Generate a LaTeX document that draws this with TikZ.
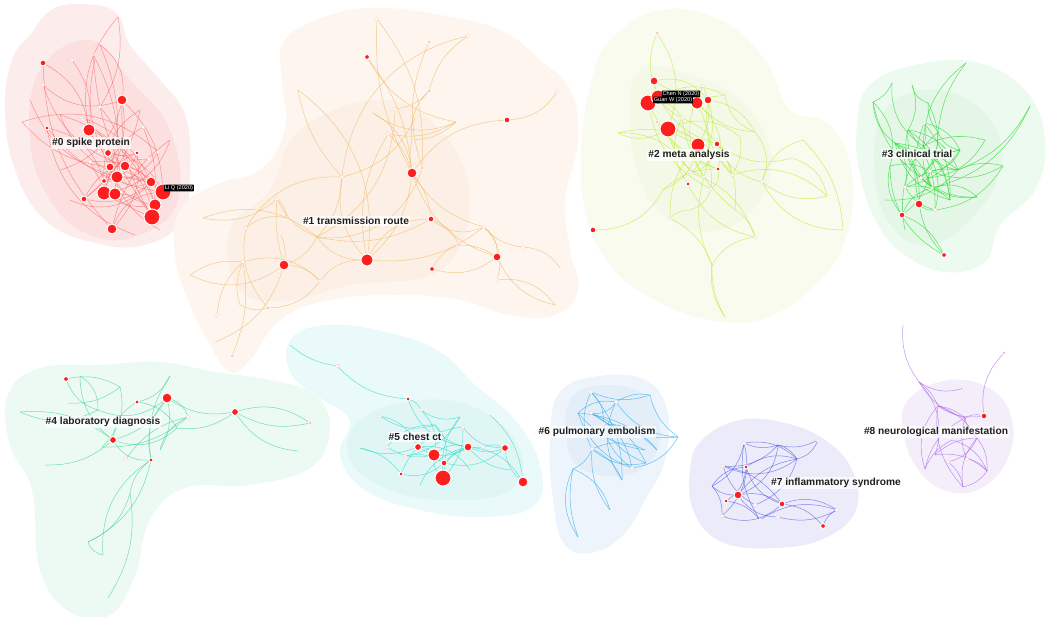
\documentclass[tikz,border=0pt]{standalone}
\usepackage{fontspec}
\setmainfont{Liberation Sans}
\pgfdeclarelayer{blobs}
\pgfdeclarelayer{links}
\pgfsetlayers{blobs,links,main}
\definecolor{nodered}{RGB}{255,30,30}
\definecolor{lk0c}{RGB}{250,90,90}
\definecolor{lk1c}{RGB}{242,185,100}
\definecolor{lk2c}{RGB}{190,235,60}
\definecolor{lk3c}{RGB}{50,220,60}
\definecolor{lk4c}{RGB}{70,215,150}
\definecolor{lk5c}{RGB}{50,220,205}
\definecolor{lk6c}{RGB}{40,170,235}
\definecolor{lk7c}{RGB}{70,80,225}
\definecolor{lk8c}{RGB}{170,100,235}
\definecolor{bl0}{RGB}{253,236,236}
\definecolor{bl0i}{RGB}{252,224,224}
\definecolor{bl1}{RGB}{253,245,238}
\definecolor{bl1i}{RGB}{252,240,230}
\definecolor{bl2}{RGB}{248,251,238}
\definecolor{bl2i}{RGB}{243,249,230}
\definecolor{bl3}{RGB}{237,250,239}
\definecolor{bl3i}{RGB}{228,247,231}
\definecolor{bl4}{RGB}{237,250,243}
\definecolor{bl5}{RGB}{234,249,249}
\definecolor{bl5i}{RGB}{224,246,245}
\definecolor{bl6}{RGB}{238,244,251}
\definecolor{bl6i}{RGB}{228,238,249}
\definecolor{bl7}{RGB}{235,235,250}
\definecolor{bl8}{RGB}{244,238,250}
\begin{document}
\begin{tikzpicture}[x=1pt,y=-1pt,
  rn/.style={circle,inner sep=0pt,fill=nodered,draw=white,line width=1pt,minimum size=#1pt},
  wn/.style={circle,inner sep=0pt,fill=white,draw=red!25,line width=0.3pt,minimum size=3.5pt},
  lab/.style={font=\bfseries\fontsize{10.2}{12}\selectfont,fill=white,fill opacity=0.75,text opacity=1,text=black!88,inner sep=1pt},
  tag/.style={font=\fontsize{5.6}{6.5}\selectfont,fill=black,text=white,inner sep=0.8pt,rounded corners=0.6pt},
  lk0/.style={draw=lk0c,line width=0.45pt,draw opacity=0.65},
  lk1/.style={draw=lk1c,line width=0.5pt,draw opacity=0.7},
  lk2/.style={draw=lk2c,line width=0.5pt,draw opacity=0.75},
  lk3/.style={draw=lk3c,line width=0.55pt,draw opacity=0.75},
  lk4/.style={draw=lk4c,line width=0.5pt,draw opacity=0.75},
  lk5/.style={draw=lk5c,line width=0.5pt,draw opacity=0.75},
  lk6/.style={draw=lk6c,line width=0.5pt,draw opacity=0.7},
  lk7/.style={draw=lk7c,line width=0.5pt,draw opacity=0.65},
  lk8/.style={draw=lk8c,line width=0.5pt,draw opacity=0.7}]
\useasboundingbox (0,0) rectangle (1052,617);
\begin{pgfonlayer}{blobs}
\fill[white] (0,0) rectangle (1052,617);
\fill[bl0] plot[smooth cycle,tension=0.7] coordinates{(30,35)(55,8)(95,5)(118,15)(130,45)(160,80)(185,115)(190,170)(182,220)(145,245)(95,243)(45,220)(15,170)(5,110)(12,60)};
\fill[bl0i] plot[smooth cycle,tension=0.7] coordinates{(40,70)(90,40)(130,80)(170,130)(178,200)(140,235)(90,235)(50,200)(30,140)};
\fill[bl1] plot[smooth cycle,tension=0.7] coordinates{(285,40)(330,15)(380,8)(440,15)(500,30)(540,60)(570,90)(578,140)(565,200)(570,250)(578,290)(555,315)(510,315)(460,300)(400,295)(330,300)(280,320)(250,360)(230,372)(210,345)(188,300)(175,255)(180,210)(215,185)(260,170)(285,130)(282,80)};
\fill[bl1i] plot[smooth cycle,tension=0.7] coordinates{(300,130)(380,100)(440,130)(470,200)(440,270)(350,285)(290,300)(240,290)(230,230)(270,190)};
\fill[bl2] plot[smooth cycle,tension=0.7] coordinates{(610,40)(660,10)(720,20)(765,60)(790,110)(830,125)(852,175)(845,240)(815,285)(765,318)(710,320)(655,300)(610,265)(585,210)(582,140)(592,80)};
\fill[bl2i] plot[smooth cycle,tension=0.7] coordinates{(640,70)(690,75)(740,100)(770,150)(760,200)(720,230)(670,220)(640,180)(630,120)};
\fill[bl3] plot[smooth cycle,tension=0.7] coordinates{(870,85)(915,65)(975,62)(1025,90)(1045,140)(1035,190)(1000,225)(985,262)(945,272)(905,255)(878,225)(860,175)(857,125)};
\fill[bl3i] plot[smooth cycle,tension=0.7] coordinates{(885,110)(940,90)(990,120)(1000,170)(970,220)(930,245)(895,230)(875,180)};
\fill[bl4] plot[smooth cycle,tension=0.7] coordinates{(8,395)(40,368)(100,365)(160,362)(215,372)(270,380)(315,395)(330,430)(310,468)(250,485)(185,488)(150,520)(135,575)(110,615)(70,612)(40,570)(32,490)(10,445)};
\fill[bl5] plot[smooth cycle,tension=0.7] coordinates{(292,338)(330,325)(390,333)(440,352)(475,385)(515,420)(540,465)(535,505)(485,517)(420,510)(365,490)(340,455)(350,420)(320,398)(290,372)};
\fill[bl5i] plot[smooth cycle,tension=0.7] coordinates{(360,420)(420,400)(480,410)(520,450)(510,490)(450,500)(390,490)(350,460)};
\fill[bl6] plot[smooth cycle,tension=0.7] coordinates{(560,392)(600,376)(645,380)(667,410)(665,460)(645,500)(625,533)(595,552)(565,545)(553,500)(550,440)};
\fill[bl6i] plot[smooth cycle,tension=0.7] coordinates{(570,400)(610,385)(650,400)(660,440)(640,470)(600,475)(570,455)};
\fill[bl7] plot[smooth cycle,tension=0.7] coordinates{(702,440)(740,420)(785,423)(825,440)(852,470)(856,510)(825,538)(775,548)(722,542)(694,512)(690,470)};
\fill[bl8] plot[smooth cycle,tension=0.7] coordinates{(908,400)(950,380)(992,390)(1012,420)(1008,458)(983,487)(950,492)(920,472)(904,435)};
\end{pgfonlayer}
% ---------- cluster 0 ----------
\node[rn=6] (z1) at (43,63) {};
\node[rn=3] (z2) at (93,54) {};
\node[rn=10] (z3) at (122,100) {};
\node[rn=4] (z4) at (47,128) {};
\node[rn=12] (z5) at (89,130) {};
\node[rn=3] (z6) at (84,118) {};
\node[rn=7] (z7) at (108,153) {};
\node[rn=4] (z8) at (137,153) {};
\node[rn=8] (z9) at (110,167) {};
\node[rn=10] (z10) at (125,166) {};
\node[rn=12] (z11) at (117,177) {};
\node[rn=5] (z12) at (104,181) {};
\node[rn=10] (z13) at (151,182) {};
\node[rn=16] (z14) at (163,192) {};
\node[rn=14] (z15) at (104,193) {};
\node[rn=12] (z16) at (115,194) {};
\node[rn=6] (z17) at (84,199) {};
\node[rn=12] (z18) at (155,205) {};
\node[rn=16] (z19) at (152,217) {};
\node[rn=10] (z20) at (112,229) {};
\node[wn] (w01) at (72,60) {};
\node[wn] (w02) at (43,85) {};
\node[wn] (w03) at (100,107) {};
\node[wn] (w04) at (143,127) {};
\node[wn] (w05) at (158,152) {};
\node[wn] (w06) at (149,159) {};
\node[wn] (w07) at (90,162) {};
\coordinate (c01) at (118,17);
\coordinate (c02) at (22,122);
\coordinate (c03) at (30,100);
\coordinate (c04) at (60,115);
\coordinate (c05) at (140,110);
\coordinate (c06) at (100,45);
\coordinate (c07) at (170,140);
\coordinate (c08) at (70,200);
\coordinate (c09) at (95,60);
\coordinate (c10) at (160,230);
\coordinate (c11) at (135,235);
\coordinate (c12) at (60,170);
% ---------- cluster 1 ----------
\node[rn=5] (o1) at (367,57) {};
\node[rn=3] (o2) at (429,42) {};
\node[rn=3] (o3) at (429,91) {};
\node[rn=6] (o4) at (507,120) {};
\node[rn=10] (o5) at (412,173) {};
\node[rn=3] (o6) at (422,168) {};
\node[rn=6] (o7) at (431,219) {};
\node[rn=10] (o8) at (284,265) {};
\node[rn=12] (o9) at (367,260) {};
\node[rn=5] (o10) at (432,269) {};
\node[rn=3] (o11) at (459,245) {};
\node[rn=8] (o12) at (497,257) {};
\node[rn=3] (o13) at (268,308) {};
\node[rn=3] (o14) at (232,356) {};
\node[wn] (p1) at (377,19) {};
\node[wn] (p2) at (468,36) {};
\node[wn] (p3) at (557,92) {};
\node[wn] (p4) at (395,109) {};
\node[wn] (p5) at (388,134) {};
\node[wn] (p6) at (342,177) {};
\node[wn] (p7) at (277,199) {};
\node[wn] (p8) at (246,228) {};
\node[wn] (p9) at (280,233) {};
\node[wn] (p10) at (243,262) {};
\node[wn] (p11) at (320,281) {};
\node[wn] (p12) at (217,315) {};
\node[wn] (p13) at (484,227) {};
\node[wn] (p14) at (523,247) {};
\node[wn] (p15) at (497,280) {};
\node[wn] (p16) at (338,366) {};
\coordinate (q1) at (317,237);
\coordinate (q2) at (412,140);
\coordinate (q3) at (456,122);
\coordinate (q4) at (298,90);
\coordinate (q5) at (190,275);
\coordinate (q6) at (215,342);
\coordinate (q7) at (555,305);
\coordinate (q8) at (560,268);
\coordinate (q9) at (203,218);
\coordinate (q10) at (240,305);
\coordinate (q11) at (287,218);
\coordinate (q12) at (373,113);
\coordinate (q13) at (415,118);
% ---------- cluster 2 ----------
\node[rn=3] (g1) at (657,33) {};
\node[rn=8] (g2) at (654,81) {};
\node[rn=16] (g3) at (648,103) {};
\node[rn=14] (g4) at (658,97) {};
\node[rn=12] (g5) at (697,103) {};
\node[rn=8] (g6) at (708,100) {};
\node[rn=16] (g7) at (668,129) {};
\node[rn=3] (g8) at (657,122) {};
\node[rn=14] (g9) at (698,145) {};
\node[rn=6] (g10) at (717,144) {};
\node[rn=4] (g11) at (718,169) {};
\node[rn=4] (g12) at (688,184) {};
\node[rn=6] (g13) at (593,230) {};
\node[wn] (h1) at (703,86) {};
\node[wn] (h2) at (682,118) {};
\node[wn] (h3) at (691,173) {};
\node[wn] (h4) at (704,177) {};
\node[wn] (h5) at (732,175) {};
\node[wn] (h6) at (711,189) {};
\node[wn] (h7) at (762,182) {};
\node[wn] (h8) at (792,158) {};
\node[wn] (h9) at (670,218) {};
\node[wn] (h10) at (755,237) {};
\coordinate (k1) at (618,133);
\coordinate (k2) at (755,132);
\coordinate (k3) at (827,196);
\coordinate (k4) at (725,317);
\coordinate (k5) at (712,265);
\coordinate (k7) at (740,137);
\coordinate (k8) at (803,140);
\coordinate (k9) at (843,230);
\coordinate (k10) at (725,95);
\coordinate (k12) at (663,190);
\coordinate (k13) at (690,210);
\coordinate (k14) at (735,210);
% ---------- cluster 3 ----------
\node[rn=8] (t1) at (919,204) {};
\node[rn=6] (t2) at (902,215) {};
\node[rn=5] (t3) at (944,255) {};
\node[wn] (u1) at (924,123) {};
\node[wn] (u2) at (930,171) {};
\node[wn] (u3) at (921,178) {};
\node[wn] (u4) at (905,187) {};
\node[wn] (u5) at (932,188) {};
\node[wn] (u6) at (935,210) {};
\coordinate (r1) at (892,83);
\coordinate (r2) at (912,85);
\coordinate (r3) at (873,102);
\coordinate (r4) at (928,103);
\coordinate (r5) at (966,63);
\coordinate (r6) at (1003,166);
\coordinate (r7) at (1030,106);
\coordinate (r8) at (977,197);
\coordinate (r9) at (890,166);
\coordinate (r10) at (908,130);
\coordinate (r11) at (938,132);
\coordinate (r12) at (958,170);
\coordinate (r13) at (923,146);
\coordinate (r14) at (895,143);
\coordinate (r15) at (960,150);
\coordinate (r16) at (985,140);
\coordinate (r17) at (950,200);
\coordinate (r18) at (905,230);
\coordinate (r19) at (885,200);
% ---------- cluster 4 ----------
\node[rn=5] (l1) at (66,379) {};
\node[rn=10] (l2) at (167,398) {};
\node[rn=4] (l3) at (137,402) {};
\node[rn=7] (l4) at (235,412) {};
\node[rn=3] (l5) at (310,423) {};
\node[rn=7] (l6) at (113,440) {};
\node[rn=4] (l7) at (151,460) {};
\node[wn] (l8) at (126,459) {};
\node[wn] (l9) at (188,417) {};
\coordinate (m1) at (80,376);
\coordinate (m2) at (68,403);
\coordinate (m3) at (98,410);
\coordinate (m4) at (170,376);
\coordinate (m5) at (120,387);
\coordinate (m6) at (20,412);
\coordinate (m7) at (45,465);
\coordinate (m8) at (102,447);
\coordinate (m9) at (177,428);
\coordinate (m10) at (298,451);
\coordinate (m11) at (130,493);
\coordinate (m12) at (88,542);
\coordinate (m13) at (108,598);
\coordinate (m14) at (160,450);
\coordinate (m15) at (103,555);
% ---------- cluster 5 ----------
\node[rn=4] (s1) at (408,399) {};
\node[rn=7] (s2) at (418,447) {};
\node[rn=12] (s3) at (434,455) {};
\node[rn=6] (s4) at (444,463) {};
\node[rn=16] (s5) at (443,478) {};
\node[rn=4] (s6) at (401,474) {};
\node[rn=8] (s7) at (468,447) {};
\node[rn=7] (s8) at (505,448) {};
\node[rn=10] (s9) at (523,482) {};
\node[wn] (x1) at (337,366) {};
\node[wn] (x2) at (421,410) {};
\node[wn] (x3) at (463,427) {};
\node[wn] (x4) at (483,447) {};
\node[wn] (x5) at (387,447) {};
\node[wn] (x6) at (405,456) {};
\node[wn] (x7) at (380,416) {};
\coordinate (y1) at (290,345);
\coordinate (y2) at (460,417);
\coordinate (y3) at (360,448);
\coordinate (y4) at (435,425);
\coordinate (y5) at (470,470);
\coordinate (y6) at (420,485);
\coordinate (y7) at (490,415);
\coordinate (y8) at (510,470);
% ---------- cluster 6 ----------
\node[wn] (b1) at (591,392) {};
\node[wn] (b2) at (616,402) {};
\node[wn] (b3) at (591,413) {};
\node[wn] (b4) at (603,424) {};
\node[wn] (b5) at (592,449) {};
\node[wn] (b6) at (632,468) {};
\coordinate (bj1) at (578,413);
\coordinate (bj2) at (650,395);
\coordinate (bj3) at (678,437);
\coordinate (bj4) at (645,450);
\coordinate (bj5) at (646,463);
\coordinate (bj6) at (622,480);
\coordinate (bj7) at (573,469);
\coordinate (bj8) at (578,537);
\coordinate (bj9) at (610,510);
\coordinate (bj10) at (657,450);
% ---------- cluster 7 ----------
\node[rn=8] (n1) at (738,495) {};
\node[rn=4] (n2) at (746,467) {};
\node[rn=4] (n3) at (726,501) {};
\node[rn=6] (n4) at (782,504) {};
\node[rn=5] (n5) at (823,526) {};
\node[wn] (nw1) at (723,466) {};
\node[wn] (nw2) at (744,443) {};
\node[wn] (nw3) at (818,440) {};
\node[wn] (nw4) at (837,510) {};
\node[wn] (nw5) at (722,516) {};
\node[wn] (nw6) at (760,520) {};
\node[wn] (nw7) at (778,517) {};
\node[wn] (nw8) at (755,505) {};
\coordinate (nj1) at (778,445);
\coordinate (nj2) at (797,459);
\coordinate (nj3) at (712,486);
% ---------- cluster 8 ----------
\node[rn=3] (e1) at (1004,353) {};
\node[rn=6] (e2) at (984,416) {};
\node[wn] (ew1) at (964,388) {};
\node[wn] (ew2) at (948,462) {};
\node[wn] (ew3) at (967,459) {};
\coordinate (ej1) at (919,382);
\coordinate (ej2) at (938,406);
\coordinate (ej3) at (965,418);
\coordinate (ej4) at (977,438);
\coordinate (ej5) at (925,469);
\coordinate (ej6) at (987,471);
\coordinate (ej7) at (963,487);
\coordinate (ej8) at (903,325);
\coordinate (ej9) at (952,440);
\coordinate (ej10) at (935,455);
% ---------- links ----------
\begin{pgfonlayer}{links}
\foreach \a/\b/\c in {c01/w03/20,c01/z5/-25,c06/z3/30,w01/z5/20,z2/z11/15,c09/z9/-20,z1/z5/25,w02/z3/-30,c02/z9/-20,c03/z11/-25,c04/z13/-30,z4/z12/30,z4/z14/-20,z6/z16/25,z3/z14/20,z3/z19/-15,z5/z18/25,z5/z13/-20,w03/z10/15,w04/z15/-25,c05/z17/20,w04/z19/15,z7/z14/25,z8/z15/-25,z8/z20/25,z9/z18/-30,z10/z19/20,z11/z13/-30,z12/z14/25,z15/z18/-20,z16/z19/30,z17/z13/-25,z20/z14/30,c07/z15/30,c07/z20/-20,z6/z13/20,z5/z8/-40,w05/z12/30,w06/z17/-30,w07/z14/25,c08/z13/-35,c10/z7/25,c11/z4/30,c12/z3/-30,z7/z11/40,z9/z13/25,z1/z20/-20,z2/z19/-15,c02/w05/30,z12/z8/-30,c04/z18/25,w02/z10/-25,c06/z15/20,z3/z17/30,c05/z12/-30,w07/z19/-20}
  \draw[lk0] (\a) to[bend left=\c] (\b);
\foreach \a/\b/\c in {p1/o5/-15,p1/o6/20,o1/o5/15,o1/q3/-25,o2/o6/-20,o3/p4/20,p2/o3/-20,p2/p6/-35,p4/q1/30,p5/o9/-20,p5/o5/15,q12/q3/-30,q12/o5/25,q13/p6/25,q3/p5/20,q4/p6/-15,q4/o9/30,o4/o5/-25,p3/o4/25,o5/o9/20,o5/o12/-25,o5/o7/15,o5/p13/-20,o6/q1/40,p6/q1/20,p6/o9/-25,p6/p8/-30,p7/q1/-20,p7/q11/20,p7/o8/-10,p8/q11/25,q9/p7/-25,q9/q1/30,p9/o8/15,p8/o13/-25,p10/p11/30,p10/o14/15,q5/p10/20,q5/o8/-30,q6/o8/-25,q10/p10/20,o13/p11/-25,o8/p11/20,o8/q1/-20,o9/p11/-25,o9/q1/25,o9/o7/30,o9/p13/-20,o7/o11/20,o7/p13/-30,o10/o12/-25,o11/o12/15,p13/o12/25,p13/p14/-20,p13/p15/30,o12/q7/-25,p15/q7/30,p14/q8/25,o10/o11/20,q1/o7/-20,o5/q2/10,q2/q3/-20,q2/o3/25,p12/p10/20,o13/q10/20}
  \draw[lk1] (\a) to[bend left=\c] (\b);
\foreach \a/\b/\c in {g1/g4/-20,g1/g7/25,g2/k10/-20,g4/k10/25,k10/k2/-30,g5/k2/-20,g6/k2/25,g3/h2/30,k1/g7/-25,k1/g9/20,k1/h3/30,g7/g9/20,g7/h4/-25,g7/k7/30,g8/g11/-20,h1/g9/25,g4/g10/-20,g5/g11/30,g6/h5/-25,g9/h6/20,g10/h7/-25,g10/k14/20,h2/g12/-30,h2/h5/25,g9/h9/-20,h3/h10/25,h4/k5/-20,h5/k3/30,h7/k3/-25,h8/k3/30,k2/h7/30,k8/h7/-30,k8/k9/20,h7/k9/-30,g12/h10/-25,h9/k5/20,k5/k4/-15,k5/h10/25,k4/k5/20,g13/k12/-30,k12/g11/20,h6/k13/25,k13/h9/-20,g11/h6/30,h3/g10/-30,k14/h10/20,g2/g6/30,g2/h2/-25,g3/g11/-20,g5/h4/20,k7/h5/20,h1/h4/-30,g10/h8/-25,g3/h6/-25,g7/h5/20,h2/k14/-20,g9/k12/25,g6/h3/30}
  \draw[lk2] (\a) to[bend left=\c] (\b);
\foreach \a/\b/\c in {r1/r13/-30,r2/r10/25,r3/r14/-25,r3/r9/30,r4/r11/-20,r4/u2/25,r5/r11/-15,r5/r13/-25,r7/r12/20,r7/u5/25,r6/r12/-20,r6/u6/25,r8/u5/-30,r8/u3/25,r9/u2/20,r9/t2/-25,r10/r12/30,r10/u5/-25,r11/u3/20,r11/r15/-30,r13/u6/25,r14/r15/-20,r14/u4/25,r15/u2/30,r16/r13/-20,r16/u3/30,r12/u4/-25,r17/r14/30,r17/u1/-20,u1/r13/20,u1/t1/-15,u2/t2/20,u3/r8/-20,u4/r17/25,u5/t2/-25,u6/t1/20,r19/r12/-25,r18/r11/30,r14/t1/25,t2/t3/20,t1/t3/-15,r9/t3/-30,u2/r6/-25,r10/u6/20,r2/r4/-30,r1/r3/20,r13/r12/-25,r15/u4/20,r3/u3/-20,r10/r17/25,r14/r12/15,r13/u5/-15,r13/r17/20,u2/u5/-30,u3/r15/25,u4/u6/-20,r14/u5/20,r10/u3/-30,u1/r15/25}
  \draw[lk3] (\a) to[bend left=\c] (\b);
\foreach \a/\b/\c in {l1/m3/-25,l1/m5/20,m1/l6/-25,m1/m3/30,m2/m5/-20,m6/l6/20,m6/m3/-25,m7/l6/-20,l2/l4/-20,l2/l9/25,m4/l3/25,m4/l7/-20,l3/l6/-25,l3/m9/25,l2/l6/20,l2/l7/-25,m5/m8/30,m8/l9/-20,m9/l6/30,m14/l2/-20,l4/l5/-20,l4/m10/-25,l4/l5/25,m9/l4/-20,m11/l7/20,m11/m12/25,m12/l7/-25,m13/m11/-20,m15/l7/30,m12/m15/-30,m14/l9/25,l6/l7/-30,l8/l9/20,m3/l2/-30}
  \draw[lk4] (\a) to[bend left=\c] (\b);
\foreach \a/\b/\c in {y1/x1/-15,x1/s1/-20,x7/s2/25,s1/x2/20,x2/y2/-25,x2/s3/25,x5/s3/-20,x5/y4/25,y3/s2/-20,y3/s6/20,y4/s7/-25,s2/s3/20,s2/s7/-30,s3/s7/25,s3/s5/-20,s4/x4/20,s4/s8/-25,s5/s7/30,s6/s4/-25,s6/x3/30,x3/s8/-25,x4/s8/20,s7/s8/-20,s8/s9/-20,s7/s9/25,y7/s9/20,x6/y2/-25,x6/s4/20,y5/s2/-30,y6/s7/25,y2/s5/-20,x7/y4/-25,y4/s4/30,x3/s5/20,s1/s7/-30,y8/s7/20}
  \draw[lk5] (\a) to[bend left=\c] (\b);
\foreach \a/\b/\c in {b1/bj2/-20,b1/b4/25,b1/b5/-25,b2/bj2/20,b2/bj3/-25,b2/b3/30,b3/bj3/-20,b3/bj5/20,bj1/b2/25,bj1/b6/-25,bj1/bj10/20,b4/bj5/-20,b4/bj10/25,b5/bj5/-25,b5/bj6/20,b5/bj4/25,b6/bj3/-25,bj6/b2/30,bj2/bj3/-20,b3/b6/25,bj7/bj8/-15,bj7/bj9/25,bj7/b5/-20,bj9/b5/20,bj8/bj7/30,b1/bj6/20,b4/b6/-20,bj1/bj4/-20}
  \draw[lk6] (\a) to[bend left=\c] (\b);
\foreach \a/\b/\c in {nw2/nj1/-20,nw2/nj2/25,nj1/nw3/-20,nj1/nj2/20,nw1/nj1/-25,nw1/n4/20,nj3/n2/25,nj3/n1/-20,nj3/nw5/20,nw1/nj2/-30,n2/nj2/25,n2/n4/-25,n1/nj1/-30,n1/n4/20,n1/nw7/-25,n3/nw6/20,n3/n2/-25,nw5/n4/-30,nw6/nw4/25,nw7/nw4/-20,n4/nw4/25,nw4/n5/-20,n4/n5/20,nw8/nj2/-25,nw8/nw1/20,nw5/nw2/-30,n1/nj2/20,nj3/nw2/-25,nw3/nj2/25,nw2/nw6/-20}
  \draw[lk7] (\a) to[bend left=\c] (\b);
\foreach \a/\b/\c in {ej8/ej1/-20,ej1/ew1/-25,ej1/ej2/15,ej1/ej3/-20,ej2/ej3/15,ej2/e2/-20,ej2/ej4/20,ej2/ej7/-25,ej3/e2/20,ej3/ej4/-20,ej4/ej6/20,ej4/ej7/-25,ej9/ej6/25,ej9/ej5/-20,ej10/ej4/20,ej5/ej3/25,ew2/ej4/-25,ew3/ej6/20,e1/e2/-25,ej7/ej6/-20,ej1/ej10/30,ej2/ej5/-30,ew2/ej7/20,ej3/ew3/-20,ej10/ej6/25}
  \draw[lk8] (\a) to[bend left=\c] (\b);
\end{pgfonlayer}
% ---------- labels ----------
\node[lab] (L0) at (91,143) {\#0 spike protein};
\node[lab] (L1) at (356,221) {\#1 transmission route};
\node[lab] (L2) at (689,155) {\#2 meta analysis};
\node[lab] (L3) at (917,154) {\#3 clinical trial};
\node[lab] (L4) at (103,422) {\#4 laboratory diagnosis};
\node[lab] (L5) at (415,437) {\#5 chest ct};
\node[lab] (L6) at (597,432) {\#6 pulmonary embolism};
\node[lab] (L7) at (836,483) {\#7 inflammatory syndrome};
\node[lab] (L8) at (936,432) {\#8 neurological manifestation};
\node[tag] (T0) at (179,188) {Li Q (2020)};
\node[tag] (T1) at (681,94) {Chen N (2020)};
\node[tag] (T2) at (673,100) {Guan W (2020)};
\end{tikzpicture}
\end{document}
